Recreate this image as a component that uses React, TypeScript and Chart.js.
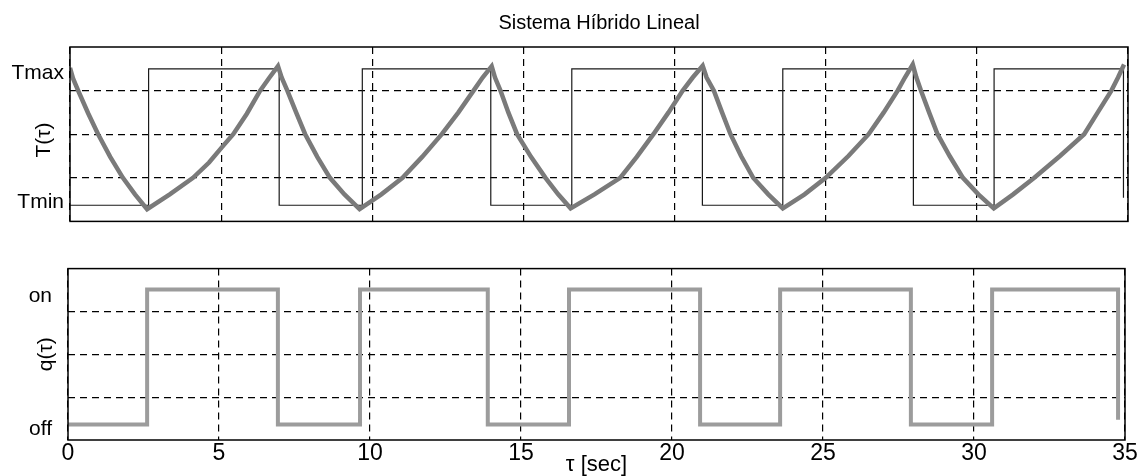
import React, { useEffect, useRef } from 'react';
import { Chart, registerables } from 'chart.js';

Chart.register(...registerables);
Chart.defaults.font.family = "'Liberation Sans', Arial, sans-serif";
Chart.defaults.color = '#000';

// ---------- data ----------
const xTicks = [0, 5, 10, 15, 20, 25, 30, 35];

// T(tau) curve
const tempTime = [
  0, 0.1, 0.27, 0.6, 0.93, 1.33, 1.75, 2.15, 2.55,
  3.3, 4.07, 4.6, 5.0, 5.4, 5.85, 6.29, 6.6, 6.88,
  7.0, 7.19, 7.48, 7.78, 8.18, 8.6, 9.08, 9.58,
  10.3, 11.0, 11.65, 12.3, 12.85, 13.35, 13.65, 13.95,
  14.06, 14.24, 14.5, 14.79, 15.25, 15.73, 16.15, 16.56,
  17.35, 18.2, 18.75, 19.3, 19.8, 20.27, 20.6, 20.93,
  21.06, 21.3, 21.57, 21.85, 22.2, 22.6, 23.1, 23.58,
  24.3, 25.0, 25.75, 26.42, 26.92, 27.38, 27.62, 27.88,
  28.0, 28.15, 28.42, 28.7, 29.1, 29.54, 30.05, 30.56,
  31.2, 31.9, 32.75, 33.55, 34.0, 34.45, 34.67, 34.87,
];
const tempValue = [
  3.52, 3.28, 3.0, 2.48, 2.0, 1.48, 1.0, 0.62, 0.28,
  0.62, 1.0, 1.35, 1.68, 2.0, 2.47, 3.0, 3.3, 3.56,
  3.3, 3.0, 2.5, 2.0, 1.48, 1.0, 0.62, 0.28,
  0.62, 1.0, 1.48, 2.0, 2.5, 3.0, 3.3, 3.56,
  3.3, 3.0, 2.5, 2.0, 1.48, 1.0, 0.62, 0.3,
  0.62, 1.0, 1.48, 2.0, 2.5, 3.0, 3.3, 3.57,
  3.3, 3.0, 2.5, 2.0, 1.5, 1.0, 0.62, 0.3,
  0.62, 1.0, 1.5, 2.0, 2.5, 3.0, 3.3, 3.6,
  3.3, 3.0, 2.5, 2.0, 1.5, 1.0, 0.62, 0.3,
  0.62, 1.0, 1.5, 2.0, 2.5, 3.0, 3.3, 3.6,
];

// thin switching line in the top plot (Tmin / Tmax)
const switchTime = [0, 2.6, 6.92, 9.67, 13.92, 16.6, 20.92, 23.58, 27.9, 30.57, 34.85];
const switchLevel = [0.37, 3.5, 0.37, 3.5, 0.37, 3.5, 0.37, 3.5, 0.37, 3.5, 0.54];

// q(tau) on/off signal
const qTime = [0, 2.62, 6.95, 9.67, 13.9, 16.59, 20.93, 23.58, 27.91, 30.6, 34.77];
const qValue = [0.36, 3.51, 0.36, 3.51, 0.36, 3.51, 0.36, 3.51, 0.36, 3.51, 0.47];

// y tick values / labels
const topYTicks = [0.43, 1, 2, 3, 3.4];
const topYLabels = ['Tmin', '', '', '', 'Tmax'];
const botYTicks = [0.26, 1, 2, 3, 3.35];
const botYLabels = ['off', '', '', '', 'on'];
const gridValues = [1, 2, 3];

// ---------- helpers ----------
const toXY = (xs: number[], ys: number[]) => xs.map((x, i) => ({ x, y: ys[i] }));

const framePlugin = {
  id: 'frame',
  afterDraw(chart: any) {
    const { ctx, chartArea } = chart;
    const { left, top, right, bottom } = chartArea;
    ctx.save();
    ctx.setLineDash([]);
    ctx.strokeStyle = '#000';
    ctx.lineWidth = 1.5;
    ctx.strokeRect(left, top, right - left, bottom - top);
    ctx.restore();
  },
};

const DASH = [7, 5];

const gridColor = (c: any) =>
  c.tick && gridValues.includes(c.tick.value) ? '#000' : 'rgba(0,0,0,0)';

function xScale(showLabels: boolean, height: number) {
  return {
    type: 'linear',
    min: 0,
    max: 35,
    afterBuildTicks: (s: any) => {
      s.ticks = xTicks.map((v) => ({ value: v }));
    },
    ticks: {
      display: showLabels,
      autoSkip: false,
      maxRotation: 0,
      padding: 0,
      color: '#000',
      font: { size: 23 },
    },
    grid: { color: '#000', lineWidth: 1.2, drawTicks: false },
    border: { display: false, dash: DASH },
    title: showLabels
      ? {
          display: true,
          text: 'τ [sec]',
          color: '#000',
          font: { size: 22, lineHeight: 1 },
          padding: { top: 0, bottom: 0 },
        }
      : { display: false },
    afterFit: (s: any) => {
      s.height = height;
    },
  };
}

function yScale(
  ticks: number[],
  labels: string[],
  title: string,
  width: number,
  labelPad: number,
  titlePad: number
) {
  return {
    type: 'linear',
    min: 0,
    max: 4,
    afterBuildTicks: (s: any) => {
      s.ticks = ticks.map((v) => ({ value: v }));
    },
    ticks: {
      autoSkip: false,
      padding: labelPad,
      color: '#000',
      font: { size: 21 },
      callback: (_v: any, i: number) => labels[i],
    },
    grid: { color: gridColor, lineWidth: 1.2, drawTicks: false },
    border: { display: false, dash: DASH },
    title: {
      display: true,
      text: title,
      color: '#000',
      font: { size: 21, lineHeight: 1 },
      padding: { top: titlePad, bottom: 0 },
    },
    afterFit: (s: any) => {
      s.width = width;
    },
  };
}

export default function App() {
  const topRef = useRef<HTMLCanvasElement | null>(null);
  const botRef = useRef<HTMLCanvasElement | null>(null);

  useEffect(() => {
    if (!topRef.current || !botRef.current) return;

    const top = new Chart(topRef.current, {
      type: 'line',
      data: {
        datasets: [
          {
            label: 'T(τ)',
            data: toXY(tempTime, tempValue),
            borderColor: '#7a7a7a',
            borderWidth: 4.5,
            pointRadius: 0,
            tension: 0,
            order: 0,
          },
          {
            label: 'switch',
            data: toXY(switchTime, switchLevel),
            stepped: 'before',
            borderColor: '#1a1a1a',
            borderWidth: 1.2,
            pointRadius: 0,
            order: 1,
          },
        ],
      },
      options: {
        animation: false,
        responsive: false,
        layout: { padding: { left: 0, right: 10, top: 0, bottom: 0 } },
        plugins: {
          legend: { display: false },
          tooltip: { enabled: false },
          title: {
            display: true,
            text: 'Sistema Híbrido Lineal',
            color: '#000',
            font: { size: 20, weight: 'normal' },
            padding: { top: 11, bottom: 12 },
            fullSize: false,
          },
        },
        scales: {
          x: xScale(false, 7),
          y: yScale(topYTicks, topYLabels, 'T(τ)  ', 70, 6, 33.5),
        },
      } as any,
      plugins: [framePlugin],
    });

    const bot = new Chart(botRef.current, {
      type: 'line',
      data: {
        datasets: [
          {
            label: 'q(τ)',
            data: toXY(qTime, qValue),
            stepped: 'before',
            borderColor: '#9c9c9c',
            borderWidth: 4,
            pointRadius: 0,
          },
        ],
      },
      options: {
        animation: false,
        responsive: false,
        layout: { padding: { left: 0, right: 13, top: 13, bottom: 0 } },
        plugins: {
          legend: { display: false },
          tooltip: { enabled: false },
        },
        scales: {
          x: xScale(true, 36),
          y: yScale(botYTicks, botYLabels, 'q(τ)', 68, 16, 35.5),
        },
      } as any,
      plugins: [framePlugin],
    });

    return () => {
      top.destroy();
      bot.destroy();
    };
  }, []);

  return (
    <div
      style={{
        position: 'absolute',
        left: 0,
        top: 0,
        width: 1138,
        height: 476,
        background: '#fff',
      }}
    >
      <canvas
        ref={topRef}
        width={1138}
        height={240}
        style={{ position: 'absolute', left: 0, top: 0, display: 'block' }}
      />
      <canvas
        ref={botRef}
        width={1138}
        height={236}
        style={{ position: 'absolute', left: 0, top: 240, display: 'block' }}
      />
    </div>
  );
}
